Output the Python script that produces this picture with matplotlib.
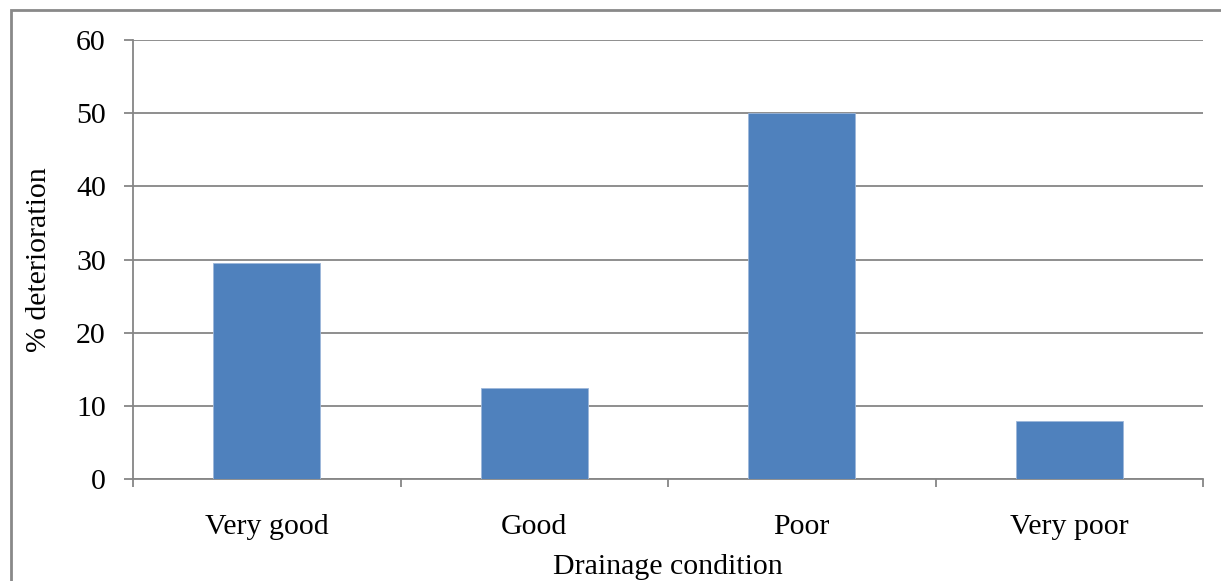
import matplotlib.pyplot as plt
from matplotlib.patches import Rectangle
import numpy as np

conditions = ['Very good', 'Good', 'Poor', 'Very poor']
deterioration = [29.5, 12.4, 50.0, 7.9]
yticks = [0, 10, 20, 30, 40, 50, 60]

plt.rcParams['font.family'] = ['Liberation Serif', 'DejaVu Serif']

grey = '#868686'
fs = 21.5
fig = plt.figure(figsize=(12.21, 5.81), dpi=100)
ax = fig.add_axes([133 / 1221, 1 - 479 / 581, 1070 / 1221, 439 / 581])

x = np.arange(len(conditions))
ax.bar(x, deterioration, width=0.4, color='#4F81BD', edgecolor='#9DB7DA',
       linewidth=0.6, zorder=3)

ax.set_xlim(-0.5, len(conditions) - 0.5)
ax.set_ylim(0, 60)
ax.set_yticks(yticks)
ax.set_xticks(x)
ax.set_xticklabels(conditions)
ax.set_xticks(np.arange(len(conditions) + 1) - 0.5, minor=True)

ax.grid(axis='y', color=grey, linewidth=1.3, zorder=1)
for side in ['top', 'right']:
    ax.spines[side].set_visible(False)
for side in ['left', 'bottom']:
    ax.spines[side].set_color(grey)
    ax.spines[side].set_linewidth(1.3)

ax.tick_params(axis='y', length=6.5, width=1.3, color=grey, pad=13, labelsize=fs)
ax.tick_params(axis='x', which='major', length=0, pad=25, labelsize=fs)
ax.tick_params(axis='x', which='minor', length=6, width=1.3, color=grey)

ax.set_ylabel('% deterioration', fontsize=fs, labelpad=17)
ax.set_xlabel('Drainage condition', fontsize=fs, labelpad=10)

# chart area border
fig.patches.append(Rectangle((11 / 1221, -0.1), 1.2, 1 - 10 / 581 + 0.1,
                             transform=fig.transFigure, fill=False,
                             edgecolor='#898989', linewidth=2, clip_on=False))

fig.savefig('out.png', dpi=100, facecolor='white')
